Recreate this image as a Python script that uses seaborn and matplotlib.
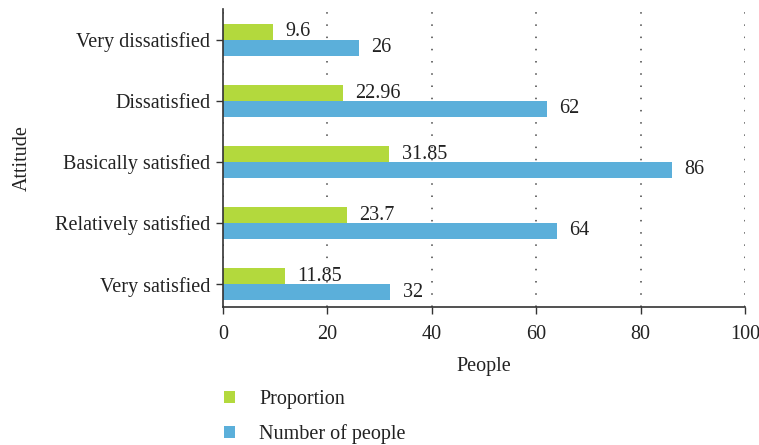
import matplotlib
matplotlib.use("Agg")
import matplotlib.pyplot as plt
import seaborn as sns
import pandas as pd

categories = ["Very dissatisfied", "Dissatisfied", "Basically satisfied",
              "Relatively satisfied", "Very satisfied"]
proportion = [9.6, 22.96, 31.85, 23.7, 11.85]
number_of_people = [26, 62, 86, 64, 32]
series_names = ["Proportion", "Number of people"]
x_ticks = [0, 20, 40, 60, 80, 100]

df = pd.DataFrame({
    "Attitude": categories * 2,
    "Series": [series_names[0]] * len(categories) + [series_names[1]] * len(categories),
    "Value": proportion + number_of_people,
})

sns.set_style("white")
plt.rcParams["font.family"] = ["Liberation Serif", "DejaVu Serif"]
FS = 14.5
plt.rcParams["font.size"] = FS

fig = plt.figure(figsize=(7.59, 4.45), dpi=100)
ax = fig.add_axes([223 / 759, 1 - 307 / 445, (745 - 223) / 759, (307 - 9) / 445])

palette = {series_names[0]: "#B3D93D", series_names[1]: "#5BAFDA"}
sns.barplot(data=df, y="Attitude", x="Value", hue="Series", orient="h",
            palette=palette, width=0.52, gap=0, saturation=1, linewidth=0,
            ax=ax, legend=True)

for cont in ax.containers:
    ax.bar_label(cont, labels=[f"{v:g}" for v in cont.datavalues], padding=9,
                 fontsize=FS, color="#222222")

ax.set_xlim(0, 100)
ax.set_xticks(x_ticks)
ax.set_ylim(4 + 23 / 61.25, -31 / 61.25)
ax.xaxis.grid(True, linestyle=(0, (1, 7)), color="#444444", linewidth=1.1)
ax.yaxis.grid(False)
ax.set_axisbelow(True)
for s in ["top", "right"]:
    ax.spines[s].set_visible(False)
for s in ["left", "bottom"]:
    ax.spines[s].set_color("#333333")
    ax.spines[s].set_linewidth(1.2)
ax.tick_params(axis="both", which="both", direction="out", length=5, width=1,
               color="#333333", labelsize=FS, labelcolor="#222222", pad=4,
               bottom=True, left=True)
ax.tick_params(axis="x", pad=8)
ax.set_xlabel("People", fontsize=FS, color="#222222", labelpad=9)
ax.set_ylabel("Attitude", fontsize=FS, color="#222222", labelpad=17)

handles, labels = ax.get_legend_handles_labels()
ax.get_legend().remove()
fig.legend(handles, labels, loc="upper left", bbox_to_anchor=(206 / 759, 1 - 372 / 445),
           frameon=False, handlelength=0.55, handleheight=0.55, handletextpad=1.2,
           labelspacing=0.75, fontsize=FS, labelcolor="#222222")

fig.savefig("out.png", dpi=100)
